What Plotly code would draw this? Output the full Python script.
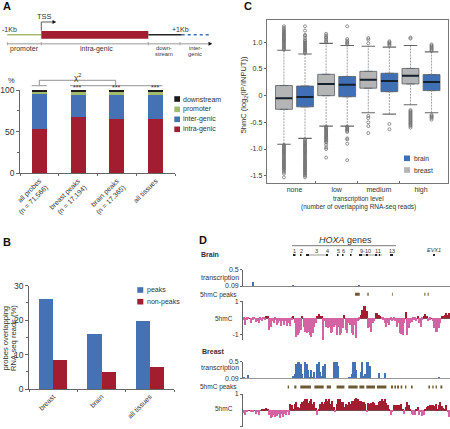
import plotly.graph_objects as go

W, H = 450, 429
FONT = "Liberation Sans"
TXT = "#333333"
RED = "#a11d2f"
BLUE = "#4472b4"
GREEN = "#a3bb6b"
GRAY = "#b5b5b5"
PINK = "#d463a4"
BROWN = "#6d5a32"
AX = "#666666"

# ---- Panel A
a_cats = ["all probes<br>(n = 71,566)", "breast peaks<br>(n = 17,194)", "brain peaks<br>(n = 17,365)", "all tissues"]
a_intra = [53.2, 67.6, 65.2, 64.8]
a_inter = [42.8, 26.4, 29.2, 28.8]
a_promoter = [1.4, 3.2, 2.8, 4.0]
a_downstream = [2.6, 2.8, 2.8, 2.4]

# ---- Panel B
b_cats = ["breast", "brain", "all tissues"]
b_peaks = [26.2, 15.9, 19.8]
b_nonpeaks = [8.4, 4.9, 6.4]

# ---- Panel C
c_cats = ["none", "low", "medium", "high"]
c_breast_q1 = [-0.256, 0.0, 0.14, 0.22]
c_breast_med = [-0.05, 0.22, 0.30, 0.375]
c_breast_q3 = [0.19, 0.40, 0.456, 0.51]
c_breast_lo = [-0.91, -0.57, -0.32, -0.17]
c_breast_hi = [0.85, 0.98, 0.925, 0.94]
c_brain_q1 = [-0.21, -0.02, 0.075, 0.095]
c_brain_med = [-0.025, 0.205, 0.275, 0.255]
c_brain_q3 = [0.18, 0.36, 0.42, 0.395]
c_brain_lo = [-0.80, -0.57, -0.345, -0.32]
c_brain_hi = [0.78, 0.94, 0.91, 0.82]
c_breast_out = [
    [0.86, 0.88, 0.9, 0.92, 0.94, 0.96, 0.98, 1.0, 1.02, 1.04, 1.06, 1.08, 1.1, 1.12, 1.14, 1.16, 1.18, 1.2, 1.22, 1.24, 1.27, 1.3,
     -0.92, -0.94, -0.96, -0.98, -1.0, -1.02, -1.04, -1.06, -1.08, -1.1, -1.12, -1.14, -1.16, -1.18, -1.2, -1.22, -1.24, -1.26, -1.28, -1.3, -1.32, -1.34, -1.36, -1.38, -1.4, -1.43, -1.46, -1.53],
    [1.0, 1.02, 1.05, 1.08, 1.1, 1.13, 1.16,
     -0.58, -0.6, -0.62, -0.64, -0.66, -0.68, -0.7, -0.72, -0.74, -0.76, -0.78, -0.8, -0.82, -0.84, -0.86, -0.88, -0.92, -0.97, -1.0, -1.16],
    [0.98, 1.05, 1.08, -0.38, -0.42, -0.5, -0.57, -0.7],
    [1.07, 1.09, -0.27, -0.29, -0.31, -0.33, -0.35, -0.37, -0.39, -0.41, -0.43, -0.45, -0.47, -0.49, -0.51, -0.53, -0.55, -0.57, -0.6],
]
c_brain_out = [
    [0.8, 0.82, 0.84, 0.86, 0.88, 0.9, 0.92, 0.94, 0.96, 0.98, 1.0, 1.02, 1.04, 1.08, 1.12, 1.14, 1.22, 1.3,
     -0.82, -0.84, -0.86, -0.88, -0.9, -0.92, -0.94, -0.96, -0.98, -1.0, -1.02, -1.04, -1.06, -1.08, -1.1, -1.12, -1.14, -1.16, -1.18, -1.2, -1.22, -1.24, -1.26, -1.28, -1.3, -1.32, -1.34, -1.36, -1.38, -1.4, -1.42, -1.44, -1.46, -1.48, -1.5, -1.53],
    [0.96, 0.98, 1.0, 1.03, 1.06, 1.3, -0.58, -0.6, -0.62, -0.64, -0.66, -0.68, -0.8, -0.82, -0.9, -1.21],
    [0.94, 0.96, 0.98, 1.0, 1.02, -0.53, -0.63],
    [0.84, 0.86, 0.88, 0.9, 0.92, 0.94, 0.96, -0.36, -0.38, -0.4, -0.42, -0.45],
]

# ---- Panel D (values per 1.5 px genome bin)
d_brain_tx_bins = [6, 33, 77]
d_brain_tx_vals = [0.19, 0.12, 0.11]
d_brain_hmc = [
    -0.1, -0.4, -0.1, -0.05, 0, -0.3, -0.1, -0.05, -0.25, -0.15, -0.3, -0.1, -0.2, -0.05, -0.1, 0.15, 0.15,
    -0.7, -0.5, -0.2, -0.3, -0.1, -0.4, -0.3, -0.2, -0.45, -0.2, -0.4, -0.2, -0.45, -0.3, -0.45, -0.1, 0.08, -0.3,
    -1.1, -1.0, -0.9, -0.7, 0.05, -0.5, -0.8, -0.9, -0.8, -1.0, -1.1, -0.9, -0.5, -0.3, 0.1, 0.25, 0.15, 0.05,
    -1.3, -0.2, -0.5, -0.6, -0.5, -0.9, -0.8, -0.5, -0.4, -1.0, -0.5, -1.0, -0.9, -0.6, 0.2,
    -0.7, -0.9,
    -0.3, -0.4, -0.9, -1.0, -0.4, -1.2, -0.2, -0.1, 0.2, 0.5, 0.7, 0.7, 0.4, -0.6, -0.5, -0.8, -0.3, -0.15, 0.3, 0.3,
    0.2, 0.15, -0.05, -0.1, -0.3, -0.5, -0.3, -0.4, -0.1, -0.2, -0.1, -0.15, -0.5, -0.3, -0.9, -0.95, -1.0, -0.3, 0.35,
    -1.0, -0.6, -0.3, -0.25, -0.1, -0.1, -0.2, 0.1, -0.3, -0.5, -0.1, 0.1, 0.25, 0.15, -0.2, -0.1, 0, -0.2, -0.6, -0.8,
    -0.8, -0.6, -0.3, 0.1, 0.05, 0.2, 0.3, 0.2, 0.3, 0.15,
]
d_breast_tx = [
    0.12, 0.09, 0.09, 0.18, 0.09, 0.09, 0.1, 0.09, 0.1, 0.1, 0.09, 0.1, 0.09, 0.1, 0.09, 0.09, 0.09, 0.09, 0.09, 0.09,
    0.09, 0.09, 0.09, 0.09, 0.09, 0.09, 0.09, 0.09, 0.09, 0.09, 0.09, 0.09, 0.09, 0.14,
    0.2, 0.45, 0.5, 0.5, 0.45, 0.2, 0.1, 0.5, 0.45, 0.3, 0.12, 0.3, 0.12, 0.25, 0.1, 0.45, 0.5, 0.25, 0.15, 0.4, 0.45,
    0.1, 0.09, 0.09, 0.09, 0.09, 0.5, 0.5, 0.5, 0.4, 0.09, 0.09, 0.09, 0.09, 0.09, 0.09,
    0.12, 0.12, 0.2, 0.5, 0.5, 0.3, 0.09, 0.09, 0.25, 0.5, 0.15, 0.2, 0.5, 0.5, 0.4, 0.09, 0.09, 0.09, 0.09, 0.09,
    0.22, 0.09, 0.09, 0.09, 0.22, 0.09, 0.09, 0.1, 0.09, 0.09, 0.09, 0.09, 0.09, 0.09, 0.09, 0.09, 0.09, 0.09, 0.09, 0.09,
    0.09, 0.09, 0.09, 0.09, 0.09, 0.09, 0.09, 0.09, 0.09, 0.09, 0.09, 0.09, 0.09, 0.09, 0.09, 0.09, 0.09, 0.09, 0.09, 0.09,
    0.11, 0.09, 0.09, 0.09, 0.09, 0.09, 0.09, 0.09,
]
d_breast_hmc = [
    -0.15, -0.3, -0.1, 0, 0.02, -0.1, -0.05, 0, -0.2, -0.1, -0.3, 0, 0.05, 0.1, 0.1, 0.15, 0.05,
    -0.3, -0.45, -0.4, -0.3, -0.4, -0.35, -0.25, -0.45, -0.2, -0.4, -0.25, -0.3, -0.1, -0.3,
    0.4, 0.3, 0.1, 0.4, 0.5, 0.2, 0.15, 0.4, 0.5, 0.6, 0.7, 0.7, 0.45, 0.6, 0.7, 0.4, 0.5, 0.15, -0.3,
    0.1, 0.4, 0.5, 0.4, 0.5, 0.7, 0.6, 0.7, 0.4, 0.6, 0.2, -0.1, 0.4, 0.7, 0.7, 0.5, 0.5, 0.2, 0.4, 0.3,
    0.5, 0.4, 0.6, 0.55, 0.7, 0.75, 0.7, 0.6, 0.6, 0.5, 0.5, 0.4, -0.1, 0.45, 0.4, 0.45, 0.5, 0.45, 0.3, 0.3,
    0.5, 0.6, 0.7, 0.55, 0.7, 0.45, 0.35, 0.1, -0.3, -0.1, 0.3, 0.35, 0.3, 0.35, 0.35, 0.4, 0.1, -0.2, 0.2, 0.5,
    0.3, 0.1, -0.2, -0.3, -0.3, 0.1, 0.2, -0.3, -0.1, -0.35, -0.3, 0.05, 0.2, 0.25, 0.3, 0.3, 0.35, 0.25, 0.4, 0.1,
    0.3, 0.5, 0.25, 0.15, 0.05, 0.35, -0.1, -0.4,
]
d_brain_peak_start = [74.7, 82.9, 99.3, 120.9, 123.1]
d_brain_peak_end = [77.8, 83.8, 99.8, 121.6, 123.8]
d_breast_peak_start = [29.8, 34.2, 38.2, 47.6, 55.8, 62.4, 70.2, 77.6, 82.2, 89.3, 98.7, 100.9, 102.7, 105.1, 108, 112, 123.6, 126.2, 128.4, 131.6]
d_breast_peak_end = [30.7, 35.6, 45.3, 53.8, 58.7, 67.6, 76.4, 80.9, 88, 95.6, 100, 102, 104, 106.2, 108.9, 113.1, 124.7, 127.1, 129.3, 132.9]


def dx(l, r):
    return [l / W, r / W]


def dy(t, b):
    return [1 - b / H, 1 - t / H]


def px(x):
    return x / W


def py(y):
    return 1 - y / H


fig = go.Figure()
annots = []
shapes = []


def text(x, y, s, size=6.5, anchor="left", color=TXT, angle=0, bold=False, italic=False):
    if bold:
        s = "<b>%s</b>" % s
    if italic:
        s = "<i>%s</i>" % s
    annots.append(dict(x=px(x), y=py(y), xref="paper", yref="paper", text=s, showarrow=False,
                       xanchor=anchor, yanchor="middle", textangle=angle, align="center",
                       font=dict(family=FONT, size=size, color=color)))


def rect(x0, y0, x1, y1, color):
    shapes.append(dict(type="rect", xref="paper", yref="paper", x0=px(x0), x1=px(x1), y0=py(y0), y1=py(y1),
                       fillcolor=color, line=dict(width=0)))


def line(x0, y0, x1, y1, color=AX, width=0.8, dash="solid"):
    shapes.append(dict(type="line", xref="paper", yref="paper", x0=px(x0), x1=px(x1), y0=py(y0), y1=py(y1),
                       line=dict(color=color, width=width, dash=dash)))


def tri(x, y, size=3.5):
    path = "M %f %f L %f %f L %f %f Z" % (px(x - size), py(y - 2), px(x + 0.3), py(y), px(x - size), py(y + 2))
    shapes.append(dict(type="path", xref="paper", yref="paper", path=path, fillcolor="#111111", line=dict(width=0)))


# ---------- traces: A
for vals, col, name in [(a_intra, RED, "intra-genic"), (a_inter, BLUE, "inter-genic"),
                        (a_promoter, GREEN, "promoter"), (a_downstream, "#1c1c1c", "downstream")]:
    fig.add_trace(go.Bar(x=list(range(4)), y=vals, marker=dict(color=col, line=dict(width=0)), name=name,
                         width=0.39, xaxis="x", yaxis="y", showlegend=False))

# ---------- traces: B
for vals, col, name in [(b_peaks, BLUE, "peaks"), (b_nonpeaks, RED, "non-peaks")]:
    fig.add_trace(go.Bar(x=list(range(3)), y=vals, marker=dict(color=col, line=dict(width=0)), name=name,
                         xaxis="x2", yaxis="y2", showlegend=False, offsetgroup=name))

# ---------- traces: C
OFF = 0.25
series = [(-OFF, "breast", GRAY, c_breast_q1, c_breast_med, c_breast_q3, c_breast_lo, c_breast_hi, c_breast_out),
          (OFF, "brain", "#3f6fb5", c_brain_q1, c_brain_med, c_brain_q3, c_brain_lo, c_brain_hi, c_brain_out)]
for off, name, col, q1, med, q3, lo, hi, out in series:
    xs = [i + off for i in range(4)]
    whx, why, capx, capy, medx, medy, ox, oy = [], [], [], [], [], [], [], []
    for i, x in enumerate(xs):
        whx += [x, x, None, x, x, None]
        why += [lo[i], q1[i], None, q3[i], hi[i], None]
        capx += [x - 0.16, x + 0.16, None, x - 0.16, x + 0.16, None]
        capy += [lo[i], lo[i], None, hi[i], hi[i], None]
        medx += [x - 0.2, x + 0.2, None]
        medy += [med[i], med[i], None]
        ox += [x] * len(out[i])
        oy += out[i]
    fig.add_trace(go.Scatter(x=whx, y=why, mode="lines", line=dict(color="#8a8a8a", width=0.8, dash="2px,1px"),
                             xaxis="x3", yaxis="y3", showlegend=False))
    fig.add_trace(go.Scatter(x=capx, y=capy, mode="lines", line=dict(color="#666666", width=1.1),
                             xaxis="x3", yaxis="y3", showlegend=False))
    fig.add_trace(go.Scatter(x=ox, y=oy, mode="markers",
                             marker=dict(symbol="circle-open", size=3, color="#666666", line=dict(width=0.7, color="#666666")),
                             xaxis="x3", yaxis="y3", showlegend=False))
    fig.add_trace(go.Box(x=xs, q1=q1, median=med, q3=q3, lowerfence=q1, upperfence=q3, width=0.4, name=name,
                         fillcolor=col, line=dict(color="#5a5f66", width=0.8), xaxis="x3", yaxis="y3", showlegend=False))
    fig.add_trace(go.Scatter(x=medx, y=medy, mode="lines", line=dict(color="#15202b", width=2),
                             xaxis="x3", yaxis="y3", showlegend=False))


# ---------- traces: D
def hmc_trace(vals, xa, ya):
    return go.Bar(x=[i + 0.5 for i in range(len(vals))], y=vals, width=1,
                  marker=dict(color=[RED if v >= 0 else PINK for v in vals], line=dict(width=0)),
                  xaxis=xa, yaxis=ya, showlegend=False)


def peak_trace(starts, ends, xa, ya):
    xs, ys = [], []
    for s, e in zip(starts, ends):
        xs += [s, e, None]
        ys += [0, 0, None]
    return go.Scatter(x=xs, y=ys, mode="lines", line=dict(color=BROWN, width=3), xaxis=xa, yaxis=ya, showlegend=False)


fig.add_trace(go.Bar(x=[b + 0.5 for b in d_brain_tx_bins], y=d_brain_tx_vals, width=1,
                     marker=dict(color=BLUE, line=dict(width=0)), xaxis="x4", yaxis="y4", showlegend=False))
fig.add_trace(peak_trace(d_brain_peak_start, d_brain_peak_end, "x5", "y5"))
fig.add_trace(hmc_trace(d_brain_hmc, "x6", "y6"))
fig.add_trace(go.Bar(x=[i + 0.5 for i in range(len(d_breast_tx))], y=d_breast_tx, width=1,
                     marker=dict(color=BLUE, line=dict(width=0)), xaxis="x7", yaxis="y7", showlegend=False))
fig.add_trace(peak_trace(d_breast_peak_start, d_breast_peak_end, "x8", "y8"))
fig.add_trace(hmc_trace(d_breast_hmc, "x9", "y9"))

# ---------- axes
tickf = dict(family=FONT, size=8.5, color=TXT)
small = dict(family=FONT, size=7, color=TXT)
base_x = dict(showgrid=False, zeroline=False, automargin=False, showline=True, linecolor=AX, linewidth=0.8)
base_y = dict(showgrid=False, zeroline=False, automargin=False, showline=True, linecolor=AX, linewidth=0.8)
layout = dict(
    width=W, height=H, margin=dict(l=0, r=0, t=0, b=0), autosize=False, paper_bgcolor="white", plot_bgcolor="rgba(0,0,0,0)",
    barmode="stack", showlegend=False, boxmode="overlay", bargap=0.42,
)
fig.update_layout(**layout)
fig.update_layout(
    xaxis=dict(base_x, domain=dx(20, 175), anchor="y", range=[-0.5, 3.5], tickmode="array", tickvals=[0, 1, 2, 3], ticktext=a_cats,
               tickangle=-45, ticks="", tickfont=small,
               minor=dict(tickmode="array", tickvals=[-0.5, 0.5, 1.5, 2.5, 3.5], ticks="outside", ticklen=2, tickcolor=AX, tickwidth=0.8)),
    yaxis=dict(base_y, domain=dy(90, 173.3), anchor="x", range=[0, 100], tickmode="array", tickvals=[0, 50, 100], ticks="outside", ticklen=3,
               tickcolor=AX, tickwidth=0.8, tickfont=tickf,
               minor=dict(tickmode="array", tickvals=[25, 75], ticks="outside", ticklen=2, tickcolor=AX, tickwidth=0.8)),
    xaxis2=dict(base_x, domain=dx(29, 174), anchor="y2", range=[-0.5, 2.5], tickmode="array", tickvals=[0, 1, 2], ticktext=b_cats,
                tickangle=-45, ticks="", tickfont=small,
                minor=dict(tickmode="array", tickvals=[-0.5, 0.5, 1.5, 2.5], ticks="outside", ticklen=2, tickcolor=AX, tickwidth=0.8)),
    yaxis2=dict(base_y, domain=dy(285.7, 389), anchor="x2", range=[0, 30], tickmode="array", tickvals=[0, 10, 20, 30], ticks="outside", ticklen=3,
                tickcolor=AX, tickwidth=0.8, tickfont=tickf,
                minor=dict(tickmode="array", tickvals=[5, 15, 25], ticks="outside", ticklen=2, tickcolor=AX, tickwidth=0.8)),
    xaxis3=dict(base_x, domain=dx(266.7, 448), anchor="y3", range=[-0.659, 3.64], tickmode="array", tickvals=[0, 1, 2, 3], ticktext=c_cats,
                ticks="", tickfont=small, mirror=True, linecolor="#777777", linewidth=1,
                minor=dict(tickmode="array", tickvals=[0.5, 1.5, 2.5], ticks="inside", ticklen=2, tickcolor=AX, tickwidth=0.8)),
    yaxis3=dict(base_y, domain=dy(20, 182.7), anchor="x3", range=[-1.631, 1.418], tickmode="array",
                tickvals=[-1.5, -1, -0.5, 0, 0.5, 1], ticktext=["-1.5", "-1.0", "-0.5", "0", "0.5", "1.0"],
                ticks="outside", ticklen=2, tickcolor=AX, tickwidth=0.8, tickfont=small, mirror=True, linecolor="#777777", linewidth=1),
)
TR = [243, 450]
tracks_x = dict(base_x, domain=dx(*TR), range=[0, 138], showticklabels=False, ticks="")
ty = dict(base_y, ticks="outside", ticklen=2, tickcolor=AX, tickwidth=0.8, tickfont=dict(family=FONT, size=7, color=TXT), tickmode="array")
fig.update_layout(
    xaxis4=dict(tracks_x, anchor="y4", linecolor="#888888", linewidth=1),
    yaxis4=dict(ty, domain=dy(269.7, 286), anchor="x4", range=[0.09, 0.5], tickvals=[0.09, 0.5], ticktext=["0.09", "0.5"]),
    xaxis5=dict(tracks_x, anchor="y5", showline=False),
    yaxis5=dict(domain=dy(291, 297.6), anchor="x5", range=[-1, 1], visible=False),
    xaxis6=dict(tracks_x, anchor="y6", showline=False),
    yaxis6=dict(ty, domain=dy(301.3, 340), anchor="x6", range=[-1.3, 1], tickvals=[-1, 1], ticktext=["-1", "1"], zeroline=True, zerolinecolor="#7a4a50", zerolinewidth=0.8),
    xaxis7=dict(tracks_x, anchor="y7", linecolor="#999999", linewidth=1),
    yaxis7=dict(ty, domain=dy(361.7, 378.3), anchor="x7", range=[0.09, 0.5], tickvals=[0.09, 0.5], ticktext=["0.09", "0.5"]),
    xaxis8=dict(tracks_x, anchor="y8", showline=False),
    yaxis8=dict(domain=dy(383.7, 390.3), anchor="x8", range=[-1, 1], visible=False),
    xaxis9=dict(tracks_x, anchor="y9", showline=False),
    yaxis9=dict(ty, domain=dy(394, 426.7), anchor="x9", range=[-1, 1], tickvals=[-1, 1], ticktext=["-1", "1"], zeroline=True, zerolinecolor="#7a4a50", zerolinewidth=0.8),
)

# ---------- panel letters
for x, y, s in [(1, 6, "A"), (1, 242, "B"), (242, 6, "C"), (197, 240, "D")]:
    text(x, y, s, size=11, bold=True, color="#111111")

# ---------- A schematic
text(44, 17, "TSS", 7.5, "center")
text(0, 30, "-1Kb", 7, "left")
text(180, 30, "+1Kb", 7, "center")
line(41.3, 30.7, 41.3, 22, "#333333", 0.8)
line(41.3, 22, 53, 22, "#333333", 0.8)
tri(56, 22)
line(7.3, 34.7, 41.3, 34.7, GREEN, 1.5)
rect(41.3, 31, 148.3, 38.7, RED)
line(148.3, 34.7, 181.7, 34.7, "#222222", 1.5)
line(181.7, 34.7, 211.7, 34.7, "#3b6fb8", 1.5, "dot")
line(7.3, 43.7, 208.5, 43.7, "#bbbbbb", 1.5)
tri(212, 43.7)
for x in [7.3, 41.3, 148.3, 180]:
    line(x, 42, x, 45.4, "#999999", 0.8)
text(24, 48.7, "promoter", 7, "center")
text(96.7, 48.7, "intra-genic", 7, "center")
text(164.3, 48, "down-", 5.8, "center")
text(164.3, 54.5, "stream", 5.8, "center")
text(195, 48, "inter-", 5.8, "center")
text(195, 54.5, "genic", 5.8, "center")
text(5.5, 80.5, "%", 7.5, "left")
text(77.7, 76.5, "χ<sup>2</sup>", 8, "center")
for seg in [(39.3, 85, 39.3, 80.3), (39.3, 80.3, 115.7, 80.3), (115.7, 80.3, 115.7, 85),
            (31.7, 85.7, 46.7, 85.7), (70, 85.7, 162.5, 85.7)]:
    line(*seg, color="#666666", width=0.7)
for x in [77, 116, 155]:
    text(x, 88, "***", 7, "center")
for y, col, s in [(99, "#1c1c1c", "downstream"), (109.3, GREEN, "promoter"), (119.3, BLUE, "inter-genic"), (129.3, RED, "intra-genic")]:
    rect(174.3, y - 2.8, 180, y + 2.8, col)
    text(181, y, s, 7, "left")

# ---------- B labels
text(4.5, 338, "probes overlapping", 7.6, "center", angle=-90)
text(13, 338, "RNA-seq reads (%)", 7.6, "center", angle=-90)
for y, col, s in [(290, BLUE, "peaks"), (301.7, RED, "non-peaks")]:
    rect(137.3, y - 2.8, 143.3, y + 2.8, col)
    text(144.7, y, s, 7, "left")

# ---------- C labels
text(244.3, 95, "5hmC (log<sub>2</sub>(IP/INPUT))", 7.5, "center", angle=-90)
text(358.3, 198.7, "transcription level", 6.5, "center")
text(358.3, 206.7, "(number of overlapping RNA-seq reads)", 6.5, "center")
for y, col, s in [(158.3, "#3f6fb5", "brain"), (170, GRAY, "breast")]:
    rect(404, y - 2.8, 410, y + 2.8, col)
    text(411.7, y, s, 6.8, "left")

# ---------- D labels
text(199, 254, "Brain", 7, "left", bold=True)
text(200, 351, "Breast", 7, "left", bold=True)
for y in [277.7, 368]:
    text(199, y, "transcription", 7, "left")
for y in [295.3, 387.3]:
    text(198, y, "5hmC peaks", 6.5, "left")
for y in [318, 408.3]:
    text(235, y, "5hmC", 6.5, "right")
text(345, 240.3, "<i>HOXA</i> genes", 9, "center")
line(292, 245.7, 396, 245.7, "#555555", 0.8)
gene_labels = [(294.3, "1"), (301, "2"), (316, "3"), (327.3, "4"), (338.3, "5"), (343.3, "6"), (351, "7"), (365.7, "9-10"), (378, "11"), (391.7, "13")]
for x, s in gene_labels:
    text(x, 250.5, s, 5.5, "center")
text(434.3, 249.5, "EVX1", 5.5, "center", italic=True)
gene_exons = [(293, 295.5), (300, 301.5), (306, 309), (326, 328), (337, 338.5), (342, 343.5), (350, 351.5), (359, 362), (366, 368), (375, 377), (379, 380), (390, 393), (433, 435)]
gene_introns = [(309, 326), (362, 366), (368, 375), (377, 379), (380, 382)]
for a, b in gene_introns:
    line(a, 255, b, 255, "#333333", 0.5)
for a, b in gene_exons:
    line(a, 255, b, 255, "#222222", 2)

fig.update_layout(annotations=annots, shapes=shapes)
fig.write_html("out.html", config={"displayModeBar": False},
               post_script="document.body.style.margin='0';document.body.style.overflow='hidden';")
